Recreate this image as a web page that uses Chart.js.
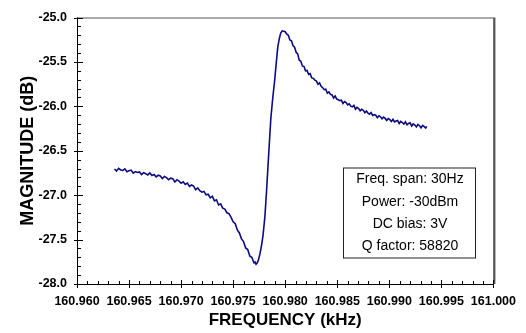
<!DOCTYPE html>
<html>
<head>
<meta charset="utf-8">
<script src="https://cdn.jsdelivr.net/npm/chart.js@4.4.1/dist/chart.umd.min.js"></script>
<style>
  html, body { margin: 0; padding: 0; background: #fff; }
  #wrap { width: 526px; height: 333px; }
</style>
</head>
<body>
<div id="wrap"><canvas id="resp" width="526" height="333"></canvas></div>
<script>
// ── DATA ─────────────────────────────────────────
const freq = [
  160.9636,160.9638,160.9640,160.9642,160.9644,160.9646,160.9648,160.9650,160.9652,160.9654,
  160.9656,160.9658,160.9660,160.9662,160.9664,160.9666,160.9668,160.9670,160.9672,160.9674,
  160.9676,160.9678,160.9680,160.9682,160.9684,160.9686,160.9688,160.9690,160.9692,160.9694,
  160.9696,160.9698,160.9700,160.9702,160.9704,160.9706,160.9708,160.9710,160.9712,160.9714,
  160.9716,160.9718,160.9720,160.9722,160.9724,160.9726,160.9728,160.9730,160.9732,160.9734,
  160.9736,160.9738,160.9740,160.9742,160.9744,160.9746,160.9748,160.9750,
  160.9752,160.9754,160.9756,160.9758,160.9760,160.9762,160.9764,160.9766,160.9768,160.9770,
  160.9771,160.9772,160.9773,160.9774,
  160.97758,160.97772,160.97786,160.97795,160.97805,160.97820,160.97834,160.97848,160.97862,
  160.97881,160.97900,160.97914,160.97929,160.97943,160.97957,160.97972,160.97986,
  160.98000,160.98014,160.98030,160.98045,160.98060,160.98075,160.98090,160.98105,160.98120,
  160.98135,160.98150,160.98165,160.98180,160.98195,160.98210,160.98225,160.98240,160.98255,
  160.98270,160.98285,160.98300,160.98315,160.98330,160.98345,160.98360,160.98375,160.98390,
  160.98405,160.98420,160.98435,160.98450,160.98465,160.98480,160.98495,160.98510,160.98525,
  160.98540,160.98555,160.98570,160.98585,160.98600,160.98615,160.98630,160.98645,160.98660,
  160.98675,160.98690,160.98705,160.98720,160.98735,160.98750,160.98765,160.98780,160.98795,
  160.98810,160.98825,160.98840,160.98855,160.98870,160.98885,160.98900,160.98915,160.98930,
  160.98945,160.98960,160.98975,160.98990,160.99005,160.99020,160.99035,160.99050,160.99065,
  160.99080,160.99095,160.99110,160.99125,160.99140,160.99155,160.99170,160.99185,160.99200,
  160.99215,160.99230,160.99245,160.99260,160.99275,160.99290,160.99305,160.99320,160.99335,
  160.99350,160.99360
];
const mag = [
  -26.705,-26.728,-26.698,-26.716,-26.722,-26.704,-26.736,-26.726,-26.718,-26.752,
  -26.735,-26.744,-26.738,-26.768,-26.746,-26.758,-26.772,-26.750,-26.778,-26.768,
  -26.794,-26.776,-26.784,-26.812,-26.790,-26.802,-26.826,-26.808,-26.814,-26.852,
  -26.826,-26.842,-26.866,-26.850,-26.880,-26.864,-26.902,-26.886,-26.898,-26.940,
  -26.918,-26.950,-26.966,-26.958,-26.996,-26.990,-27.030,-27.012,-27.064,-27.052,
  -27.110,-27.098,-27.146,-27.156,-27.198,-27.208,-27.250,-27.300,
  -27.322,-27.392,-27.425,-27.492,-27.522,-27.594,-27.612,-27.684,-27.702,-27.760,
  -27.752,-27.778,-27.765,-27.742,
  -27.658,-27.570,-27.460,-27.360,-27.239,-26.970,-26.687,-26.410,-26.136,
  -25.900,-25.695,-25.510,-25.331,-25.240,-25.176,-25.150,-25.154,
  -25.160,-25.185,-25.200,-25.252,-25.262,-25.315,-25.335,-25.392,-25.410,
  -25.482,-25.492,-25.545,-25.550,-25.600,-25.595,-25.640,-25.632,-25.680,
  -25.684,-25.706,-25.716,-25.752,-25.736,-25.774,-25.790,-25.812,-25.808,
  -25.852,-25.838,-25.866,-25.872,-25.906,-25.884,-25.918,-25.926,-25.936,
  -25.932,-25.968,-25.946,-25.958,-25.984,-25.972,-25.998,-26.006,-25.990,
  -26.032,-26.012,-26.024,-26.050,-26.034,-26.044,-26.072,-26.052,-26.076,
  -26.088,-26.070,-26.102,-26.094,-26.100,-26.128,-26.106,-26.118,-26.140,
  -26.122,-26.136,-26.160,-26.138,-26.150,-26.170,-26.146,-26.176,-26.166,
  -26.160,-26.194,-26.170,-26.182,-26.200,-26.174,-26.208,-26.192,-26.186,
  -26.222,-26.198,-26.210,-26.232,-26.204,-26.218,-26.242,-26.214,-26.228,
  -26.244,-26.226
];
const xTicks = [160.960,160.965,160.970,160.975,160.980,160.985,160.990,160.995,161.000];
const yTicks = [-28.0,-27.5,-27.0,-26.5,-26.0,-25.5,-25.0];
const infoLines = ['Freq. span: 30Hz','Power: -30dBm','DC bias: 3V','Q factor: 58820'];

const FONT = "'Liberation Sans', Arial, sans-serif";

// ── PLUGIN: frame, tick marks, info box ──────────
const framePlugin = {
  id: 'frame',
  afterDraw(chart) {
    const {ctx, chartArea: a, scales: {x, y}} = chart;
    ctx.save();
    // top / right frame
    ctx.strokeStyle = '#555';
    ctx.lineWidth = 1;
    ctx.beginPath();
    ctx.moveTo(a.left, a.top + 0.5); ctx.lineTo(a.right + 0.5, a.top + 0.5);
    ctx.lineTo(a.right + 0.5, a.bottom);
    ctx.stroke();
    ctx.lineWidth = 2;
    ctx.beginPath();
    ctx.moveTo(a.right + 1, a.top); ctx.lineTo(a.right + 1, a.bottom);
    ctx.stroke();
    // axes
    ctx.strokeStyle = '#000';
    ctx.lineWidth = 1;
    ctx.beginPath();
    ctx.moveTo(a.left + 0.5, a.top); ctx.lineTo(a.left + 0.5, a.bottom + 0.5);
    ctx.lineTo(a.right, a.bottom + 0.5);
    // y minor + major
    for (let i = 0; i <= 30; i++) {
      const v = -28 + i * 0.1;
      const py = Math.round(y.getPixelForValue(v)) + 0.5;
      if (i % 5 === 0) { ctx.moveTo(a.left - 3, py); ctx.lineTo(a.left + 6, py); }
      else { ctx.moveTo(a.left, py); ctx.lineTo(a.left + 4, py); }
    }
    // x minor + major
    for (let i = 0; i <= 40; i++) {
      const v = 160.96 + i * 0.001;
      const px = Math.round(x.getPixelForValue(v)) + 0.5;
      if (i % 5 === 0) { ctx.moveTo(px, a.bottom + 4); ctx.lineTo(px, a.bottom - 4); }
      else { ctx.moveTo(px, a.bottom); ctx.lineTo(px, a.bottom - 3); }
    }
    ctx.stroke();

    // info box
    const bx = a.left + 266, by = a.top + 150, bw = 132, bh = 90;
    ctx.strokeStyle = '#222';
    ctx.lineWidth = 1;
    ctx.strokeRect(bx + 0.5, by + 0.5, bw, bh);
    ctx.fillStyle = '#000';
    ctx.font = '14px ' + FONT;
    ctx.textAlign = 'center';
    ctx.textBaseline = 'middle';
    infoLines.forEach((t, i) => ctx.fillText(t, bx + bw / 2 + 1, by + 12 + i * 22.2));
    ctx.restore();
  }
};

// ── CHART ────────────────────────────────────────
new Chart(document.getElementById('resp'), {
  type: 'line',
  data: {
    datasets: [{
      data: freq.map((f, i) => ({x: f, y: mag[i]})),
      borderColor: '#0c0c82',
      borderWidth: 1.6,
      pointRadius: 0,
      tension: 0,
      fill: false
    }]
  },
  options: {
    responsive: false,
    animation: false,
    devicePixelRatio: 1,
    layout: { padding: { top: 12, right: 27, left: 0, bottom: 0 } },
    plugins: { legend: { display: false }, tooltip: { enabled: false } },
    scales: {
      x: {
        type: 'linear', min: 160.96, max: 161.0,
        afterBuildTicks: s => { s.ticks = xTicks.map(v => ({value: v})); },
        afterFit: s => { s.height = 49; },
        grid: { display: false, drawTicks: false },
        border: { display: false },
        ticks: {
          padding: 10, color: '#000', maxRotation: 0, autoSkip: false,
          font: { family: FONT, size: 12.5, weight: 'bold' },
          callback: v => v.toFixed(3)
        },
        title: {
          display: true, text: 'FREQUENCY (kHz)', color: '#000',
          font: { family: FONT, size: 17, weight: 'bold' },
          padding: { top: 0, bottom: 2 }
        }
      },
      y: {
        min: -28, max: -25,
        afterBuildTicks: s => { s.ticks = yTicks.map(v => ({value: v})); },
        afterFit: s => { s.width = 77; },
        grid: { display: false, drawTicks: false },
        border: { display: false },
        ticks: {
          padding: 10, color: '#000',
          font: { family: FONT, size: 12.5, weight: 'bold' },
          callback: v => v.toFixed(1)
        },
        title: {
          display: true, text: 'MAGNITUDE (dB)', color: '#000',
          font: { family: FONT, size: 18, weight: 'bold' },
          padding: { top: 17, bottom: 0 }
        }
      }
    }
  },
  plugins: [framePlugin]
});
</script>
</body>
</html>
